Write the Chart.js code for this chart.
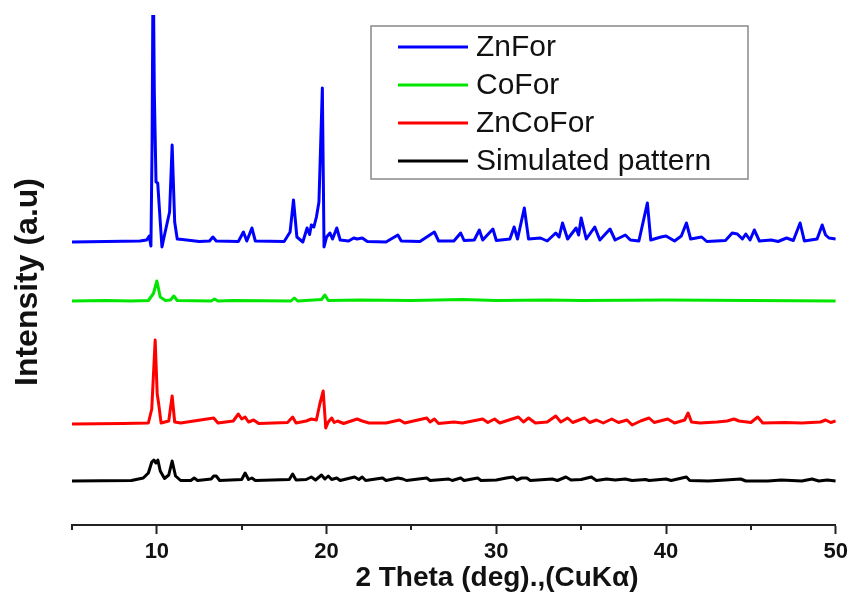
<!DOCTYPE html>
<html>
<head>
<meta charset="utf-8">
<script src="https://cdn.jsdelivr.net/npm/chart.js@4/dist/chart.umd.min.js"></script>
<style>
  html, body { margin: 0; background: #fff; }
</style>
</head>
<body>
<canvas id="xrdChart" width="853" height="606"></canvas>
<script>
// --- DATI ---
const seriesLabels = ['ZnFor', 'CoFor', 'ZnCoFor', 'Simulated pattern'];
const seriesColors = ['#0000ff', '#00e600', '#ff0000', '#000000'];
// spostamento verticale di ogni curva (stile "stacked" XRD)
const seriesOffsets = [56.6, 44.8, 20.2, 8.8];

const znForX = [5, 9.0, 9.4, 9.55, 9.65, 9.72, 9.78, 9.85, 9.95, 10.05, 10.2, 10.3, 10.45, 10.75, 10.9, 11.05, 11.2, 11.5, 12.5, 13.1, 13.3, 13.5, 14.8, 15.1, 15.3, 15.6, 15.8, 17.5, 17.85, 18.05, 18.25, 18.6, 18.85, 19.0, 19.1, 19.25, 19.4, 19.55, 19.75, 19.85, 20.0, 20.2, 20.35, 20.6, 20.8, 21.3, 21.6, 21.8, 22.1, 22.4, 23.5, 24.2, 24.4, 25.5, 26.35, 26.6, 27.5, 27.9, 28.1, 28.7, 29.0, 29.2, 29.8, 30.0, 30.8, 31.05, 31.25, 31.65, 31.9, 32.6, 33.0, 33.5, 33.7, 33.9, 34.2, 34.7, 34.85, 35.0, 35.3, 35.8, 36.1, 36.7, 37.0, 37.6, 37.9, 38.4, 38.9, 39.1, 39.7, 40.0, 40.5, 40.9, 41.2, 41.45, 42.1, 42.4, 43.5, 43.9, 44.2, 44.5, 44.7, 44.95, 45.2, 45.5, 46.2, 46.6, 47.1, 47.5, 47.9, 48.15, 48.9, 49.2, 49.4, 49.6, 50];
const znForY = [0, 0.2, 0.4, 1.2, -0.8, 20, 58, 30, 12, 11.8, 4, -1, 1.4, 6, 19.4, 4, 0.6, 0.5, 0.1, 0.2, 1.0, 0.2, 0.1, 2.0, 0.2, 2.8, 0.2, 0.1, 2, 8.4, 1, 0, 2.8, 1.5, 3.4, 3, 5, 8, 30.8, -1, 1, 1.8, 0.6, 2.8, 0.4, 0.2, 0.8, 0.6, 0.8, 0.1, 0, 1.4, 0.2, 0.1, 2, 0.2, 0.2, 1.8, 0.3, 0.4, 2.4, 0.4, 2.6, 0.3, 0.6, 3, 0.6, 6.8, 0.6, 0.8, 0.2, 1.8, 1.0, 3.8, 0.6, 2.8, 1.4, 4.8, 0.6, 3, 0.4, 2.6, 0.4, 1.4, 0.4, 0.2, 7.8, 0.4, 1, 1.2, 0.2, 1.2, 3.8, 0.6, 1.0, 0.1, 0.3, 1.8, 1.6, 0.6, 1.6, 0.4, 2.4, 0.2, 0.4, 0.1, 0.8, 0.3, 3.8, 0.2, 0.6, 3.4, 1.4, 0.8, 0.6];

const coForX = [5, 7, 8.5, 9.5, 9.8, 10.0, 10.2, 10.5, 10.8, 11.0, 11.2, 13.2, 13.4, 13.6, 14.5, 17.9, 18.1, 18.3, 19.7, 19.9, 20.1, 22, 25, 28, 30, 33, 35, 40, 45, 50];
const coForY = [0, 0.1, 0, 0.1, 1.5, 4, 0.8, 0.1, 0.2, 1, 0.1, 0, 0.4, 0, 0.1, 0, 0.6, 0, 0.3, 1.2, 0.1, 0.2, 0.1, 0.3, 0.1, 0.2, 0.1, 0.2, 0.1, 0];

const znCoForX = [5, 8, 9.5, 9.7, 9.9, 10.02, 10.1, 10.25, 10.7, 10.9, 11.05, 11.4, 13.35, 13.6, 14.5, 14.8, 15.0, 15.2, 15.4, 15.7, 16, 17.7, 18.0, 18.2, 18.8, 19.1, 19.4, 19.6, 19.8, 19.95, 20.1, 20.3, 20.45, 20.65, 21, 21.8, 22.1, 22.5, 23.5, 24.3, 24.6, 25.9, 26.1, 26.35, 26.6, 27.5, 28, 28.6, 29.2, 29.5, 29.9, 30.2, 31.3, 31.6, 31.9, 32.3, 33.0, 33.5, 33.8, 34.2, 34.5, 35.2, 35.5, 35.9, 36.3, 36.8, 37.2, 37.7, 38.0, 38.5, 39.0, 39.3, 40.1, 40.5, 41.1, 41.3, 41.5, 42, 43, 43.6, 44.0, 44.3, 45.0, 45.4, 45.7, 47, 48, 49.1, 49.4, 49.7, 50];
const znCoForY = [0, 0.1, 0.2, 3, 16.8, 6, 4.2, 0.2, 0.6, 5.6, 0.4, 0.2, 1.2, 0.2, 0.6, 2, 1, 1.4, 0.4, 0.8, 0.1, 0.3, 1.4, 0.2, 0.6, 1, 0.8, 4, 6.6, -0.8, 0.4, 1.2, 0.3, 0.6, 0.1, 1, 0.6, 0.2, 0.2, 0.8, 0.2, 1.2, 0.4, 1, 0.1, 0.4, 0.2, 0.6, 1, 0.3, 1, 0.2, 1.4, 0.4, 1.2, 0.2, 0.4, 1.6, 0.4, 1.2, 0.3, 1.2, 0.3, 0.8, 0.2, 1, 0.3, 0.8, -0.2, 0.6, 1.2, 0.3, 1, 0.2, 0.8, 2.2, 0.4, 0.2, 0.4, 0.6, 1, 0.6, 0.3, 1.4, 0.2, 0.3, 0.2, 0.4, 0.8, 0.3, 0.6];

const simX = [5, 8.5, 9.2, 9.5, 9.7, 9.82, 9.95, 10.06, 10.2, 10.45, 10.7, 10.9, 11.1, 11.4, 12.0, 12.2, 12.4, 13.2, 13.35, 13.5, 13.7, 15.0, 15.2, 15.4, 15.6, 15.8, 17.8, 18.0, 18.2, 18.8, 19.1, 19.35, 19.7, 19.9, 20.1, 20.3, 20.6, 20.8, 21.65, 21.9, 22.1, 22.3, 23.3, 23.5, 24.2, 24.5, 24.7, 25.9, 26.1, 27.2, 27.4, 27.9, 28.1, 28.9, 29.1, 30.0, 30.6, 31.0, 31.2, 31.5, 31.8, 32.0, 33.3, 33.6, 34.1, 34.4, 35.0, 35.6, 35.9, 36.5, 37.0, 37.6, 38.0, 38.8, 39.0, 40.0, 40.3, 41.2, 41.4, 42.5, 43.5, 44.4, 44.7, 46, 46.8, 48, 48.6, 49, 49.5, 50];
const simY = [0, 0.1, 0.6, 1.6, 3.8, 4.2, 3.6, 4.2, 2, 0.5, 1.2, 4, 1, 0.1, 0.1, 0.6, 0.1, 0.4, 1, 1, 0.1, 0.3, 1.6, 0.3, 0.6, 0.1, 0.3, 1.4, 0.2, 0.3, 0.8, 0.2, 1.2, 0.4, 1, 0.3, 0.6, 0.1, 0.8, 0.3, 0.8, 0.1, 0.6, 0.1, 0.6, 0.4, 0.1, 0.6, 0.1, 0.4, 0.1, 0.6, 0.1, 0.6, 0.1, 0.2, 0.6, 0.8, 0.2, 0.6, 0.6, 0.1, 0.4, 0.1, 0.8, 0.2, 0.3, 0.8, 0.1, 0.4, 0.2, 0.4, 0.1, 0.3, 0.1, 0.4, 0.1, 0.8, 0.1, 0, 0.2, 0.4, 0, 0, 0.2, 0, 0.4, 0, 0.2, 0];

// tacche dell'asse x
const majorTicks = [10, 20, 30, 40, 50];
const minorTicks = [5, 15, 25, 35, 45];

const fontFamily = '"Liberation Sans", Arial, sans-serif';

function toPoints(xs, ys, offset) {
    return xs.map((x, i) => ({ x: x, y: ys[i] + offset }));
}

const allX = [znForX, coForX, znCoForX, simX];
const allY = [znForY, coForY, znCoForY, simY];

const datasets = seriesLabels.map((label, i) => ({
    label: label,
    data: toPoints(allX[i], allY[i], seriesOffsets[i]),
    borderColor: seriesColors[i],
    backgroundColor: seriesColors[i],
    borderWidth: 3,
    borderJoinStyle: 'round',
    pointRadius: 0,
    tension: 0,
    clip: 0
}));

// --- PLUGIN: legenda nel riquadro, titoli e tacche minori ---
const decorPlugin = {
    id: 'decor',
    afterDraw(chart) {
        const ctx = chart.ctx;
        const xs = chart.scales.x;
        ctx.save();

        // tacche minori (più corte)
        ctx.strokeStyle = '#222';
        ctx.lineWidth = 2;
        minorTicks.forEach(v => {
            const px = Math.round(xs.getPixelForValue(v));
            ctx.beginPath();
            ctx.moveTo(px, xs.top);
            ctx.lineTo(px, xs.top + 5);
            ctx.stroke();
        });

        // legenda
        const box = { left: 371, top: 26, right: 748, bottom: 179 };
        ctx.fillStyle = '#fff';
        ctx.fillRect(box.left, box.top, box.right - box.left, box.bottom - box.top);
        ctx.strokeStyle = '#888';
        ctx.lineWidth = 1.5;
        ctx.strokeRect(box.left, box.top, box.right - box.left, box.bottom - box.top);
        ctx.font = '30px ' + fontFamily;
        ctx.textBaseline = 'middle';
        ctx.textAlign = 'left';
        seriesLabels.forEach((label, i) => {
            const y = 47 + i * 38;
            ctx.strokeStyle = seriesColors[i];
            ctx.lineWidth = 3;
            ctx.beginPath();
            ctx.moveTo(398, y);
            ctx.lineTo(468, y);
            ctx.stroke();
            ctx.fillStyle = '#111';
            ctx.fillText(label, 476, y + 1);
        });

        // titoli assi
        ctx.fillStyle = '#111';
        ctx.font = 'bold 28px ' + fontFamily;
        ctx.textAlign = 'center';
        ctx.fillText('2 Theta (deg).,(CuKα)', 497, 578);

        ctx.font = 'bold 32px ' + fontFamily;
        ctx.translate(28, 282);
        ctx.rotate(-Math.PI / 2);
        ctx.fillText('Intensity (a.u)', 0, 0);
        ctx.restore();
    }
};

const ctx = document.getElementById('xrdChart').getContext('2d');
new Chart(ctx, {
    type: 'line',
    data: { datasets: datasets },
    options: {
        responsive: false,
        animation: false,
        maintainAspectRatio: false,
        layout: { padding: { left: 72, right: 16, top: 15, bottom: 0 } },
        plugins: {
            legend: { display: false },
            tooltip: { enabled: false }
        },
        scales: {
            x: {
                type: 'linear',
                position: 'bottom',
                min: 5,
                max: 50,
                afterFit(scale) { scale.height = 81; },
                afterBuildTicks(scale) {
                    scale.ticks = majorTicks.map(v => ({ value: v }));
                },
                border: { display: true, color: '#222', width: 2 },
                grid: {
                    drawOnChartArea: false,
                    drawTicks: true,
                    tickLength: 9,
                    tickWidth: 2,
                    tickColor: '#222'
                },
                ticks: {
                    padding: 5,
                    color: '#111',
                    maxRotation: 0,
                    font: { family: fontFamily, size: 22, weight: 'bold' }
                }
            },
            y: {
                display: false,
                min: 0,
                max: 102
            }
        }
    },
    plugins: [decorPlugin]
});
</script>
</body>
</html>
